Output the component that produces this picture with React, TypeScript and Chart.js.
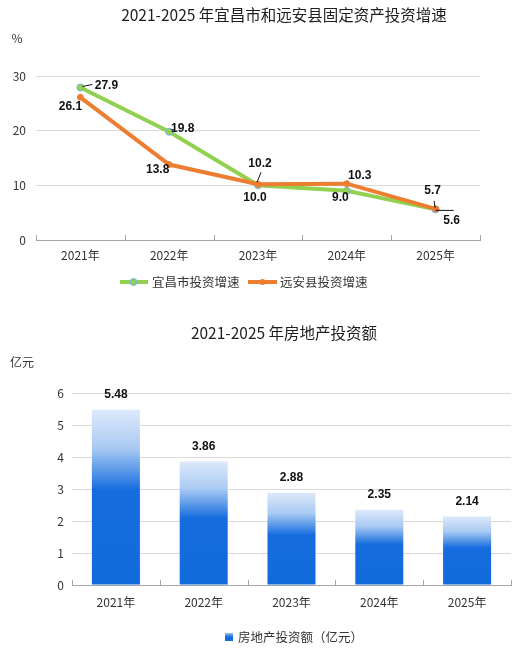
import React, { useEffect, useRef } from 'react';
import { Chart, registerables } from 'chart.js';

Chart.register(...registerables);

// ---------- data ----------
const years = ['2021年', '2022年', '2023年', '2024年', '2025年'];
const yichangGrowth = [27.9, 19.8, 10.0, 9.0, 5.6];
const yuananGrowth = [26.1, 13.8, 10.2, 10.3, 5.7];
const growthTickStep = 10;
const growthMax = 30;
const realEstate = [5.48, 3.86, 2.88, 2.35, 2.14];
const realEstateTickStep = 1;
const realEstateMax = 6;

const lineTitle = '2021-2025 年宜昌市和远安县固定资产投资增速';
const barTitle = '2021-2025 年房地产投资额';
const lineUnit = '%';
const barUnit = '亿元';
const seriesNames = ['宜昌市投资增速', '远安县投资增速'];
const barSeriesName = '房地产投资额（亿元）';

// ---------- styles ----------
const CJK = "'Noto Sans CJK SC', 'Noto Sans', sans-serif";
const NUM_BOLD = "bold 12px 'Liberation Sans', Arial, sans-serif";
const GREEN = '#92D050';
const GREEN_POINT_BORDER = '#7EB1E3';
const ORANGE = '#ED7D31';
const TEXT = '#333333';
const TITLE = '#1E1E1E';
const GRID = '#D9D9D9';
const AXIS = '#A6A6A6';

// label offsets relative to points (style only)
const greenLabelOffsets = [[26, -2], [13.5, -3], [-3, 12], [-6.5, 7], [16, 11]];
const orangeLabelOffsets = [[-10, 9.5], [-11.5, 5], [2, -21], [13, -8], [-3, -18]];
const greenLeaders: (number[] | null)[] = [[2, -1, 12, -3], [2, -2, 5, -2], null, null, [0, 1, 18, 1]];
const orangeLeaders: (number[] | null)[] = [null, null, [-1, -2, 3, -12], null, [-0.5, -1, -1.5, -8]];

function drawInnerTicks(chart: any) {
  const x = chart.scales.x;
  const c = chart.ctx;
  const n = chart.data.labels.length;
  const bottom = chart.chartArea.bottom;
  c.save();
  c.strokeStyle = AXIS;
  c.lineWidth = 1;
  for (let i = 0; i <= n; i++) {
    let px: number;
    if (i === 0) px = x.left;
    else if (i === n) px = x.right;
    else px = (x.getPixelForValue(i - 1) + x.getPixelForValue(i)) / 2;
    px = Math.round(px) + 0.5;
    c.beginPath();
    c.moveTo(px, bottom);
    c.lineTo(px, bottom - 5);
    c.stroke();
  }
  c.restore();
}

function drawText(c: any, text: string, x: number, y: number, font: string, color: string, align: CanvasTextAlign = 'center') {
  c.save();
  c.font = font;
  c.fillStyle = color;
  c.textAlign = align;
  c.textBaseline = 'middle';
  c.fillText(text, x, y);
  c.restore();
}

const lineDecor = {
  id: 'lineDecor',
  afterDraw(chart: any) {
    const c = chart.ctx;
    drawInnerTicks(chart);
    drawText(c, lineTitle, 284, 15, `15.5px ${CJK}`, TITLE);
    drawText(c, lineUnit, 17, 38, `12px ${CJK}`, TEXT);

    const sets = [
      { idx: 0, offs: greenLabelOffsets, leads: greenLeaders, data: yichangGrowth },
      { idx: 1, offs: orangeLabelOffsets, leads: orangeLeaders, data: yuananGrowth },
    ];
    sets.forEach((s) => {
      const meta = chart.getDatasetMeta(s.idx);
      meta.data.forEach((pt: any, i: number) => {
        const lead = s.leads[i];
        if (lead) {
          c.save();
          c.strokeStyle = '#111';
          c.lineWidth = 1;
          c.beginPath();
          c.moveTo(pt.x + lead[0], pt.y + lead[1]);
          c.lineTo(pt.x + lead[2], pt.y + lead[3]);
          c.stroke();
          c.restore();
        }
        const o = s.offs[i];
        drawText(c, s.data[i].toFixed(1), pt.x + o[0], pt.y + o[1], NUM_BOLD, '#111');
      });
    });

    // legend
    const ly = 282;
    c.save();
    c.lineWidth = 4;
    c.strokeStyle = GREEN;
    c.beginPath(); c.moveTo(120, ly); c.lineTo(148, ly); c.stroke();
    c.fillStyle = GREEN; c.strokeStyle = GREEN_POINT_BORDER; c.lineWidth = 1;
    c.beginPath(); c.arc(133.5, ly, 3.5, 0, Math.PI * 2); c.fill(); c.stroke();
    c.lineWidth = 4;
    c.strokeStyle = ORANGE;
    c.beginPath(); c.moveTo(248, ly); c.lineTo(277, ly); c.stroke();
    c.fillStyle = ORANGE;
    c.beginPath(); c.arc(262.5, ly, 3, 0, Math.PI * 2); c.fill();
    c.restore();
    drawText(c, seriesNames[0], 152, ly, `12.5px ${CJK}`, TEXT, 'left');
    drawText(c, seriesNames[1], 280, ly, `12.5px ${CJK}`, TEXT, 'left');
  },
};

function barGradient(c: any, top: number, base: number) {
  const g = c.createLinearGradient(0, top, 0, base);
  g.addColorStop(0, '#DDE9FA');
  g.addColorStop(0.22, '#A9CAF3');
  g.addColorStop(0.46, '#146CDE');
  g.addColorStop(1, '#126BDD');
  return g;
}

const barDecor = {
  id: 'barDecor',
  afterDraw(chart: any) {
    const c = chart.ctx;
    drawInnerTicks(chart);
    drawText(c, barTitle, 284, 33, `15.5px ${CJK}`, TITLE);
    drawText(c, barUnit, 22, 62, `12px ${CJK}`, TEXT);
    const meta = chart.getDatasetMeta(0);
    meta.data.forEach((bar: any, i: number) => {
      drawText(c, realEstate[i].toFixed(2), bar.x, bar.y - 15, NUM_BOLD, '#111');
    });
    // legend
    const ly = 337;
    c.save();
    const g = c.createLinearGradient(0, ly - 4, 0, ly + 4);
    g.addColorStop(0, '#9CC2F2');
    g.addColorStop(0.5, '#146CDE');
    g.addColorStop(1, '#126BDD');
    c.fillStyle = g;
    c.fillRect(225, ly - 4, 8, 8);
    c.restore();
    drawText(c, barSeriesName, 238, ly, `12.5px ${CJK}`, TEXT, 'left');
  },
};

export default function App() {
  const lineRef = useRef<HTMLCanvasElement>(null);
  const barRef = useRef<HTMLCanvasElement>(null);

  useEffect(() => {
    const tickFont = { family: CJK, size: 12 };
    const lineChart = new Chart(lineRef.current as HTMLCanvasElement, {
      type: 'line',
      data: {
        labels: years,
        datasets: [
          {
            label: seriesNames[0],
            data: yichangGrowth,
            borderColor: GREEN,
            backgroundColor: GREEN,
            borderWidth: 4,
            pointRadius: 3.5,
            pointBackgroundColor: GREEN,
            pointBorderColor: GREEN_POINT_BORDER,
            pointBorderWidth: 1,
            tension: 0,
            order: 1,
          },
          {
            label: seriesNames[1],
            data: yuananGrowth,
            borderColor: ORANGE,
            backgroundColor: ORANGE,
            borderWidth: 4,
            pointRadius: 3,
            pointBackgroundColor: ORANGE,
            pointBorderColor: ORANGE,
            pointBorderWidth: 1,
            tension: 0,
            order: 0,
          },
        ],
      },
      options: {
        animation: false,
        responsive: false,
        layout: { padding: { top: 76, left: 0, right: 40, bottom: 30 } },
        plugins: { legend: { display: false }, title: { display: false }, tooltip: { enabled: false } },
        scales: {
          x: {
            offset: true,
            grid: { display: false, drawTicks: false },
            border: { display: true, color: AXIS, width: 1 },
            ticks: { font: tickFont, color: TEXT, padding: 8 },
            afterFit: (s: any) => { s.height = 30; },
          },
          y: {
            min: 0,
            max: growthMax,
            ticks: { stepSize: growthTickStep, font: tickFont, color: TEXT, padding: 10 },
            grid: { color: GRID, drawTicks: false },
            border: { display: false },
            afterFit: (s: any) => { s.width = 36; },
          },
        },
      },
      plugins: [lineDecor],
    });

    const barChart = new Chart(barRef.current as HTMLCanvasElement, {
      type: 'bar',
      data: {
        labels: years,
        datasets: [
          {
            label: barSeriesName,
            data: realEstate,
            barPercentage: 0.547,
            categoryPercentage: 1,
            borderWidth: 0,
            backgroundColor: (ctx: any) => {
              const chart = ctx.chart;
              if (!chart.chartArea || ctx.dataIndex === undefined || ctx.raw === undefined) return '#126BDD';
              const y = chart.scales.y;
              return barGradient(chart.ctx, y.getPixelForValue(ctx.raw), y.getPixelForValue(0));
            },
          },
        ],
      },
      options: {
        animation: false,
        responsive: false,
        layout: { padding: { top: 93, left: 0, right: 9, bottom: 38 } },
        plugins: { legend: { display: false }, title: { display: false }, tooltip: { enabled: false } },
        scales: {
          x: {
            grid: { display: false, drawTicks: false },
            border: { display: true, color: AXIS, width: 1 },
            ticks: { font: tickFont, color: TEXT, padding: 10 },
            afterFit: (s: any) => { s.height = 30; },
          },
          y: {
            min: 0,
            max: realEstateMax,
            ticks: { stepSize: realEstateTickStep, font: tickFont, color: TEXT, padding: 8 },
            grid: { color: GRID, drawTicks: false },
            border: { display: false },
            afterFit: (s: any) => { s.width = 72; },
          },
        },
      },
      plugins: [barDecor],
    });

    return () => {
      lineChart.destroy();
      barChart.destroy();
    };
  }, []);

  return (
    <div style={{ position: 'absolute', left: 0, top: 0, width: 520, height: 653, background: '#fff' }}>
      <canvas ref={lineRef} width={520} height={300} style={{ display: 'block', width: 520, height: 300 }} />
      <canvas ref={barRef} width={520} height={353} style={{ display: 'block', width: 520, height: 353 }} />
    </div>
  );
}
